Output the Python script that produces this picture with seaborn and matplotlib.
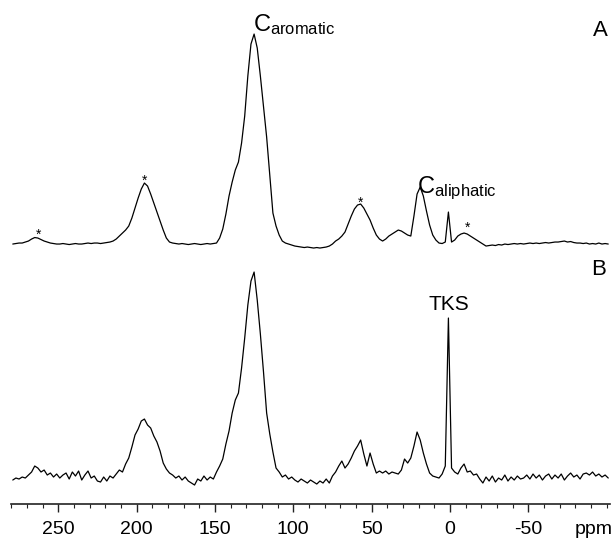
import numpy as np
import pandas as pd
import matplotlib
matplotlib.use("Agg")
import matplotlib.pyplot as plt
from matplotlib.ticker import MultipleLocator
import seaborn as sns

# chemical shift grid (ppm), odd values from 279 down to -101
ppm = np.arange(279, -102, -2)

# spectrum A intensities (a.u., baseline = 0)
spec_a = [
    0, 0.5, 1, 1, 2, 3, 5, 6.5, 6, 4.5,
    3, 2, 1, 0.5, 0, 0, 0.5, 0, -0.5, 0,
    0.5, 0, 0, 0.5, 1, 0.5, 1, 1, 0.5, 1,
    1.5, 2, 3, 5, 8, 11, 14, 18, 26, 36,
    46, 55, 61, 58, 50, 41, 32, 23, 14, 6,
    2, 1, 0.5, 0, 0.5, 0, -0.5, 0, 0.5, 0,
    -0.5, 0, 0.5, 0, 0.5, 1, 6, 15, 30, 48,
    62, 74, 82, 101, 128, 168, 200, 210, 196, 168,
    137, 107, 69, 31, 18, 9, 3, 1, 0, -1,
    -2, -2.5, -3, -3.5, -3, -3.5, -4, -3.5, -4, -3.5,
    -3, -2, 0, 3, 5, 8, 12, 20, 28, 35,
    39, 40, 36, 30, 24, 16, 9, 5, 3, 5,
    8, 10, 12, 14, 13, 11, 9, 8, 28, 50,
    57, 48, 33, 19, 9, 4, 1, 0.5, 2, 32,
    2, 4, 8, 10, 11, 10, 8, 6, 4, 2,
    0, -2, -1.5, -1, -1.5, -0.5, -1, 0, -0.5, 0,
    0.5, 0, 0.5, 0, 0.5, 1, 0.5, 1, 0.5, 1,
    1.5, 1, 1.5, 2, 2, 2.5, 3, 2, 2.5, 1.5,
    1, 1, 0.5, 1, 0, 0.5, 0, 1, 0, 0.5,
    0,
]

# spectrum B intensities (a.u., baseline = 0)
spec_b = [
    -2, 0, -1, 1, 0, 3, 6, 12, 10, 6,
    8, 3, 5, 1, 4, 0, 3, 5, -1, 6,
    2, 7, -2, 3, 7, 0, 2, -3, -4, 1,
    -3, 2, 0, 4, 8, 6, 14, 20, 31, 43,
    49, 57, 59, 53, 50, 42, 36, 27, 15, 9,
    5, 3, 0, 2, -2, 1, -3, -5, -7, -1,
    -3, 2, -2, 1, -1, 6, 12, 19, 34, 47,
    65, 78, 85, 110, 140, 173, 197, 206, 178, 144,
    106, 65, 44, 26, 10, 6, 1, 3, -1, 1,
    -2, -4, -1, -3, -5, -2, -4, -6, -3, -5,
    -1, -5, 2, 6, 12, 17, 10, 14, 20, 27,
    32, 38, 24, 12, 25, 14, 5, 7, 5, 7,
    4, 6, 5, 4, 8, 19, 15, 20, 32, 46,
    38, 25, 14, 5, 2, 1, 0, 4, 12, 160,
    10, 6, 4, 10, 14, 6, 7, 3, 4, -1,
    -5, 1, -3, 2, -4, 0, -2, 3, -3, 1,
    -2, 2, -1, 0, 3, -1, 4, 0, 3, -2,
    2, 4, -1, 3, 0, 4, -2, 2, 5, 1,
    3, -1, 4, 5, 3, 6, 2, 4, 1, 3,
    0,
]

offset_a = 260
offset_b = 26

sns.set_theme(style="white")
plt.rcParams["font.family"] = ["Liberation Sans", "DejaVu Sans"]
plt.rcParams["mathtext.fontset"] = "custom"
plt.rcParams["mathtext.rm"] = "Liberation Sans"
plt.rcParams["axes.unicode_minus"] = False
plt.rcParams["text.color"] = "black"
plt.rcParams["xtick.color"] = "black"

df = pd.DataFrame({
    "ppm": np.concatenate([ppm, ppm]),
    "intensity": np.concatenate([np.array(spec_a) + offset_a, np.array(spec_b) + offset_b]),
    "spectrum": ["A"] * len(ppm) + ["B"] * len(ppm),
})

fig = plt.figure(figsize=(6.13, 5.39), dpi=100)
ax = fig.add_axes([0.0183, 0.0649, 0.9765, 0.935])

for name, grp in df.groupby("spectrum"):
    sns.lineplot(data=grp, x="ppm", y="intensity", ax=ax, color="black",
                 linewidth=0.9, sort=False, estimator=None, legend=False)

ax.set_xlim(280, -102)
ax.set_ylim(0, 504)
ax.set_xlabel("")
ax.set_ylabel("")
ax.set_yticks([])
for s in ["left", "right", "top"]:
    ax.spines[s].set_visible(False)
ax.spines["bottom"].set_linewidth(1.2)
ax.spines["bottom"].set_color("#222222")

ax.xaxis.set_major_locator(MultipleLocator(50))
ax.xaxis.set_minor_locator(MultipleLocator(10))
ax.tick_params(axis="x", which="major", direction="out", length=6, width=1,
               labelsize=14, pad=6.5, bottom=True, color="#222222", labelcolor="black")
ax.tick_params(axis="x", which="minor", direction="out", length=3, width=0.8,
               bottom=True, color="#222222")
ax.set_xticks([250, 200, 150, 100, 50, 0, -50])

ax.text(-92, -30, "ppm", fontsize=14, ha="center", va="baseline", clip_on=False)

# peak labels
ax.text(125.7, 473, r"$\mathregular{C_{aromatic}}$", fontsize=17, ha="left", va="baseline")
ax.text(21.3, 311, r"$\mathregular{C_{aliphatic}}$", fontsize=17, ha="left", va="baseline")
ax.text(0.8, 200, "TKS", fontsize=15, ha="center", va="center")
ax.text(-95.7, 474, "A", fontsize=16, ha="center", va="center")
ax.text(-95, 235, "B", fontsize=16, ha="center", va="center")

# spinning sidebands
for x, y in [(262.8, 265), (195.1, 319), (57, 297), (-11.3, 272)]:
    ax.text(x, y, "*", fontsize=10, ha="center", va="baseline")

fig.savefig("out.png", dpi=100)
